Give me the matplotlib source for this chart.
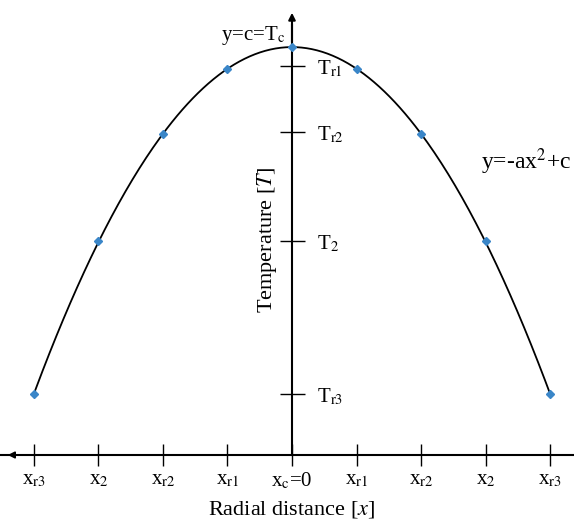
import numpy as np
import matplotlib.pyplot as plt

plt.rcParams["font.family"] = ["Liberation Serif", "DejaVu Serif"]
plt.rcParams["mathtext.fontset"] = "stix"

# data (x in tick units, T in arbitrary units)
x_pos = [-4, -3, -2, -1, 0, 1, 2, 3, 4]
temp = [0.61, 2.14, 3.21, 3.86, 4.08, 3.86, 3.21, 2.14, 0.61]
x_labels = [r"x$_\mathrm{r3}$", r"x$_\mathrm{2}$", r"x$_\mathrm{r2}$",
            r"x$_\mathrm{r1}$", r"x$_\mathrm{c}$=0", r"x$_\mathrm{r1}$",
            r"x$_\mathrm{r2}$", r"x$_\mathrm{2}$", r"x$_\mathrm{r3}$"]
t_ticks = [3.89, 3.23, 2.14, 0.61]
t_labels = [r"T$_\mathrm{r1}$", r"T$_\mathrm{r2}$", r"T$_\mathrm{2}$",
            r"T$_\mathrm{r3}$"]

fig = plt.figure(figsize=(5.74, 5.31), dpi=100)
ax = fig.add_axes([0, 0, 1, 1])
ax.set_xlim(-4.527, 4.372)
ax.set_ylim(-0.76, 4.55)

# parabola through the points
coef = np.polyfit(x_pos, temp, 2)
xx = np.linspace(min(x_pos), max(x_pos), 300)
ax.plot(xx, np.polyval(coef, xx), color="black", lw=1.3, zorder=2)
ax.plot(x_pos, temp, ls="none", marker="D", ms=4.5, color="#3a86c8",
        zorder=3)

# axes through the origin
ax.spines["top"].set_visible(False)
ax.spines["bottom"].set_position(("data", 0))
ax.spines["left"].set_position(("data", 0))
ax.spines["left"].set_bounds(0, 4.3)
ax.spines["right"].set_position(("data", 0))
ax.spines["right"].set_visible(False)
ax.spines["bottom"].set_linewidth(1.5)
ax.spines["left"].set_linewidth(1.5)

ax.set_xticks(x_pos)
ax.set_xticklabels(x_labels, fontsize=15)
ax.set_yticks(t_ticks)
ax.set_yticklabels(t_labels, fontsize=15)
ax.tick_params(axis="x", direction="inout", length=16, width=1, pad=3)
ax.tick_params(axis="y", direction="inout", length=18, width=1,
               left=True, right=False, labelleft=False, labelright=True,
               pad=9)

# arrow heads
ax.annotate("", xy=(-4.45, 0), xytext=(-4.0, 0),
            arrowprops=dict(arrowstyle="-|>", color="black", lw=1.2,
                            mutation_scale=10))
ax.annotate("", xy=(0, 4.45), xytext=(0, 4.1),
            arrowprops=dict(arrowstyle="-|>", color="black", lw=1.5,
                            mutation_scale=10))

ax.text(-0.1, 4.19, r"y=c=T$_\mathrm{c}$", fontsize=15, ha="right",
        va="center")
ax.text(2.93, 2.93, r"y=-ax$^\mathrm{2}$+c", fontsize=17, ha="left",
        va="center")
ax.text(-0.39, 2.15, r"Temperature [$\mathit{T}$]", fontsize=16,
        rotation=90, ha="center", va="center")
ax.text(0, -0.55, r"Radial distance [$\mathit{x}$]", fontsize=16,
        ha="center", va="center")

fig.savefig("out.png", dpi=100)
